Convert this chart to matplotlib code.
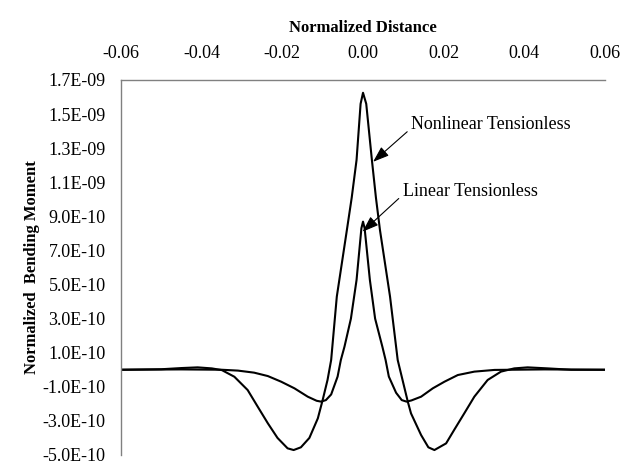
import numpy as np
import matplotlib
matplotlib.use('Agg')
import matplotlib.pyplot as plt
from matplotlib.ticker import FuncFormatter

# data (moment in units of 1E-10)
x_nonlinear = [-0.060, -0.050, -0.045, -0.041, -0.0375, -0.035, -0.0319, -0.0286, -0.0261,
               -0.0236, -0.0212, -0.0187, -0.0172, -0.0154, -0.0133, -0.0112, -0.0100,
               -0.0088, -0.0079, -0.0065, -0.0040, -0.0028, -0.0016, -0.0006, 0.0,
               0.0008, 0.0022, 0.0032, 0.0042, 0.0067, 0.0086, 0.0098, 0.0111, 0.0119,
               0.0144, 0.0162, 0.0177, 0.0206, 0.0226, 0.0251, 0.0276, 0.0309, 0.0342,
               0.0375, 0.0408, 0.0458, 0.0516, 0.060]
m_nonlinear = [0.0, 0.03, 0.10, 0.14, 0.08, -0.02, -0.41, -1.19, -2.17,
               -3.14, -4.00, -4.61, -4.71, -4.55, -4.00, -2.85, -1.77,
               -0.60, 0.57, 4.29, 8.20, 10.10, 12.31, 15.60, 16.25,
               15.60, 12.31, 10.10, 8.20, 4.29, 0.57, -0.60, -1.87, -2.56,
               -3.83, -4.55, -4.71, -4.32, -3.53, -2.56, -1.58, -0.60, -0.11,
               0.08, 0.14, 0.08, 0.0, 0.0]

x_linear = [-0.060, -0.045, -0.035, -0.031, -0.027, -0.0236, -0.0203, -0.0170, -0.0137,
            -0.0115, -0.0104, -0.0092, -0.0079, -0.0063, -0.0055, -0.0046, -0.0030,
            -0.0016, -0.0004, 0.0, 0.0004, 0.0017, 0.0030, 0.0048, 0.0056, 0.0064,
            0.0082, 0.0096, 0.0108, 0.0120, 0.0144, 0.0173, 0.0202, 0.0235, 0.0276,
            0.0326, 0.045, 0.060]
m_linear = [0.0, 0.02, 0.0, -0.05, -0.17, -0.37, -0.70, -1.09, -1.58,
            -1.82, -1.87, -1.78, -1.45, -0.40, 0.57, 1.35, 3.00,
            5.27, 8.30, 8.69, 8.30, 5.27, 3.00, 1.35, 0.57, -0.40,
            -1.35, -1.78, -1.87, -1.80, -1.58, -1.09, -0.70, -0.31, -0.11,
            -0.01, 0.02, 0.0]

x_ticks = [-0.06, -0.04, -0.02, 0.0, 0.02, 0.04, 0.06]
x_ticklabels = ['-0.06', '-0.04', '-0.02', '0.00', '0.02', '0.04', '0.06']
y_ticks = [-5, -3, -1, 1, 3, 5, 7, 9, 11, 13, 15, 17]

plt.rcParams['font.family'] = ['Liberation Serif', 'DejaVu Serif']
plt.rcParams['font.size'] = 13

fig = plt.figure(figsize=(6.28, 4.73), dpi=100)
ax = fig.add_axes([0.1927, 0.0381, 0.7707, 0.7928])

scale = 1e-10
ax.plot(x_nonlinear, np.array(m_nonlinear) * scale, color='black', lw=1.5)
ax.plot(x_linear, np.array(m_linear) * scale, color='black', lw=1.5)

ax.set_xlim(-0.06, 0.06)
ax.set_ylim(-5e-10, 1.7e-9)
ax.set_xticks(x_ticks)
ax.set_xticklabels(x_ticklabels)
ax.set_yticks(np.array(y_ticks) * scale)
ax.yaxis.set_major_formatter(FuncFormatter(lambda v, p: f'{v:.1E}'))

ax.xaxis.tick_top()
ax.xaxis.set_label_position('top')
ax.tick_params(axis='both', length=0)
ax.tick_params(axis='x', pad=13)
ax.tick_params(axis='y', pad=11)

for s in ['right', 'bottom']:
    ax.spines[s].set_visible(False)
for s in ['left', 'top']:
    ax.spines[s].set_color('#808080')
    ax.spines[s].set_linewidth(1.0)

ax.set_xlabel('Normalized Distance', fontweight='bold', fontsize=12, labelpad=9)
ax.set_ylabel('Normalized  Bending Moment', fontweight='bold', fontsize=12, labelpad=2)

arrow = dict(arrowstyle='-|>,head_length=0.7,head_width=0.25', color='black',
             lw=0.8, mutation_scale=14, shrinkA=1, shrinkB=0, relpos=(0, 0.3))
ax.annotate('Nonlinear Tensionless', xy=(0.0025, 1.22e-9), xytext=(0.0119, 1.436e-9),
            ha='left', va='center', arrowprops=arrow)
ax.annotate('Linear Tensionless', xy=(-0.0001, 8.1e-10), xytext=(0.0098, 1.045e-9),
            ha='left', va='center', arrowprops=arrow)

fig.savefig('out.png', dpi=100)
